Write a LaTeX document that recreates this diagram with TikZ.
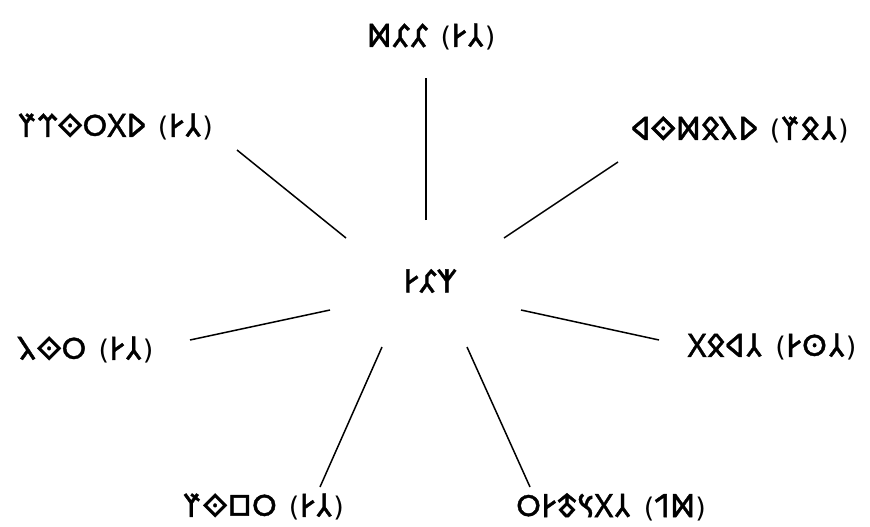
\documentclass[tikz,border=0pt]{standalone}
\usepackage{fontspec}
\setmainfont{DejaVu Sans}
\newfontfamily\ot[FakeBold=1.2,Scale=1.2]{Noto Sans Old Turkic}
\newcommand\tkg[1]{\char"#1\relax}
\newcommand\tkA{\tkg{10C2E}}
\newcommand\tkB{\tkg{10C10}}
\newcommand\tkC{\tkg{10C31}}
\newcommand\tkD{\tkg{10C32}}
\newcommand\tkE{\tkg{10C48}}
\newcommand\tkF{\tkg{10C42}}
\newcommand\tkG{\tkg{10C3C}}
\newcommand\tkH{\tkg{10C2C}}
\newcommand\tkI{\tkg{10C17}}
\newcommand\tkJ{\tkg{10C13}}
\newcommand\tkK{\tkg{10C37}}
\newcommand\tkL{\tkg{10C36}}
\newcommand\tkN{\tkg{10C48}}
\newcommand\tkO{\tkg{10C0B}}
\newcommand\tkP{\tkg{10C33}}
\newcommand\tkQ{\tkg{10C3F}}
\newcommand\tkR{\tkg{10C27}}
\newcommand\tkS{\tkg{10C43}}
\newcommand\tkT{\tkg{10C3D}}
\newcommand\tkU{\tkg{10C2F}}
\newcommand\tkgap{\hspace{0.45em}}
\begin{document}
\begin{tikzpicture}[x=1pt,y=-1pt,
  lbl/.style={inner sep=0pt, font=\fontsize{27}{30}\selectfont},
  edge/.style={line width=1.5pt, black}]
\useasboundingbox (0,0) rectangle (870,527);
% nodes
\node[lbl] (c)  at (430,281) {{\ot\tkC\tkB\tkA}};
\node[lbl] (n1) at (431,37)  {{\ot\tkB\tkB\tkE}\tkgap({\ot\tkD\tkA})};
\node[lbl] (n2) at (115,127) {{\ot\tkK\tkJ\tkI\tkH\tkG\tkF}\tkgap({\ot\tkD\tkA})};
\node[lbl] (n3) at (740,130) {{\ot\tkK\tkP\tkO\tkN\tkH\tkL}\tkgap({\ot\tkD\tkO\tkF})};
\node[lbl] (n4) at (86,350)  {{\ot\tkI\tkH\tkP}\tkgap({\ot\tkD\tkA})};
\node[lbl] (n5) at (772,347) {{\ot\tkD\tkL\tkO\tkJ}\tkgap({\ot\tkD\tkR\tkA})};
\node[lbl] (n6) at (263,507) {{\ot\tkI\tkQ\tkH\tkF}\tkgap({\ot\tkD\tkA})};
\node[lbl] (n7) at (611,507) {{\ot\tkD\tkJ\tkT\tkS\tkA\tkI}\tkgap({\ot\tkE\tkU})};
% connector ends
\coordinate (c1) at (426,220); \coordinate (o1) at (426,78);
\coordinate (c2) at (346,238); \coordinate (o2) at (237,150);
\coordinate (c3) at (504,238); \coordinate (o3) at (618,162);
\coordinate (c4) at (330,310); \coordinate (o4) at (190,340);
\coordinate (c5) at (521,310); \coordinate (o5) at (659,340);
\coordinate (c6) at (382,347); \coordinate (o6) at (320,487);
\coordinate (c7) at (467,347); \coordinate (o7) at (530,487);
\foreach \i in {1,...,7}{\draw[edge] (c\i) -- (o\i);}
\end{tikzpicture}
\end{document}
